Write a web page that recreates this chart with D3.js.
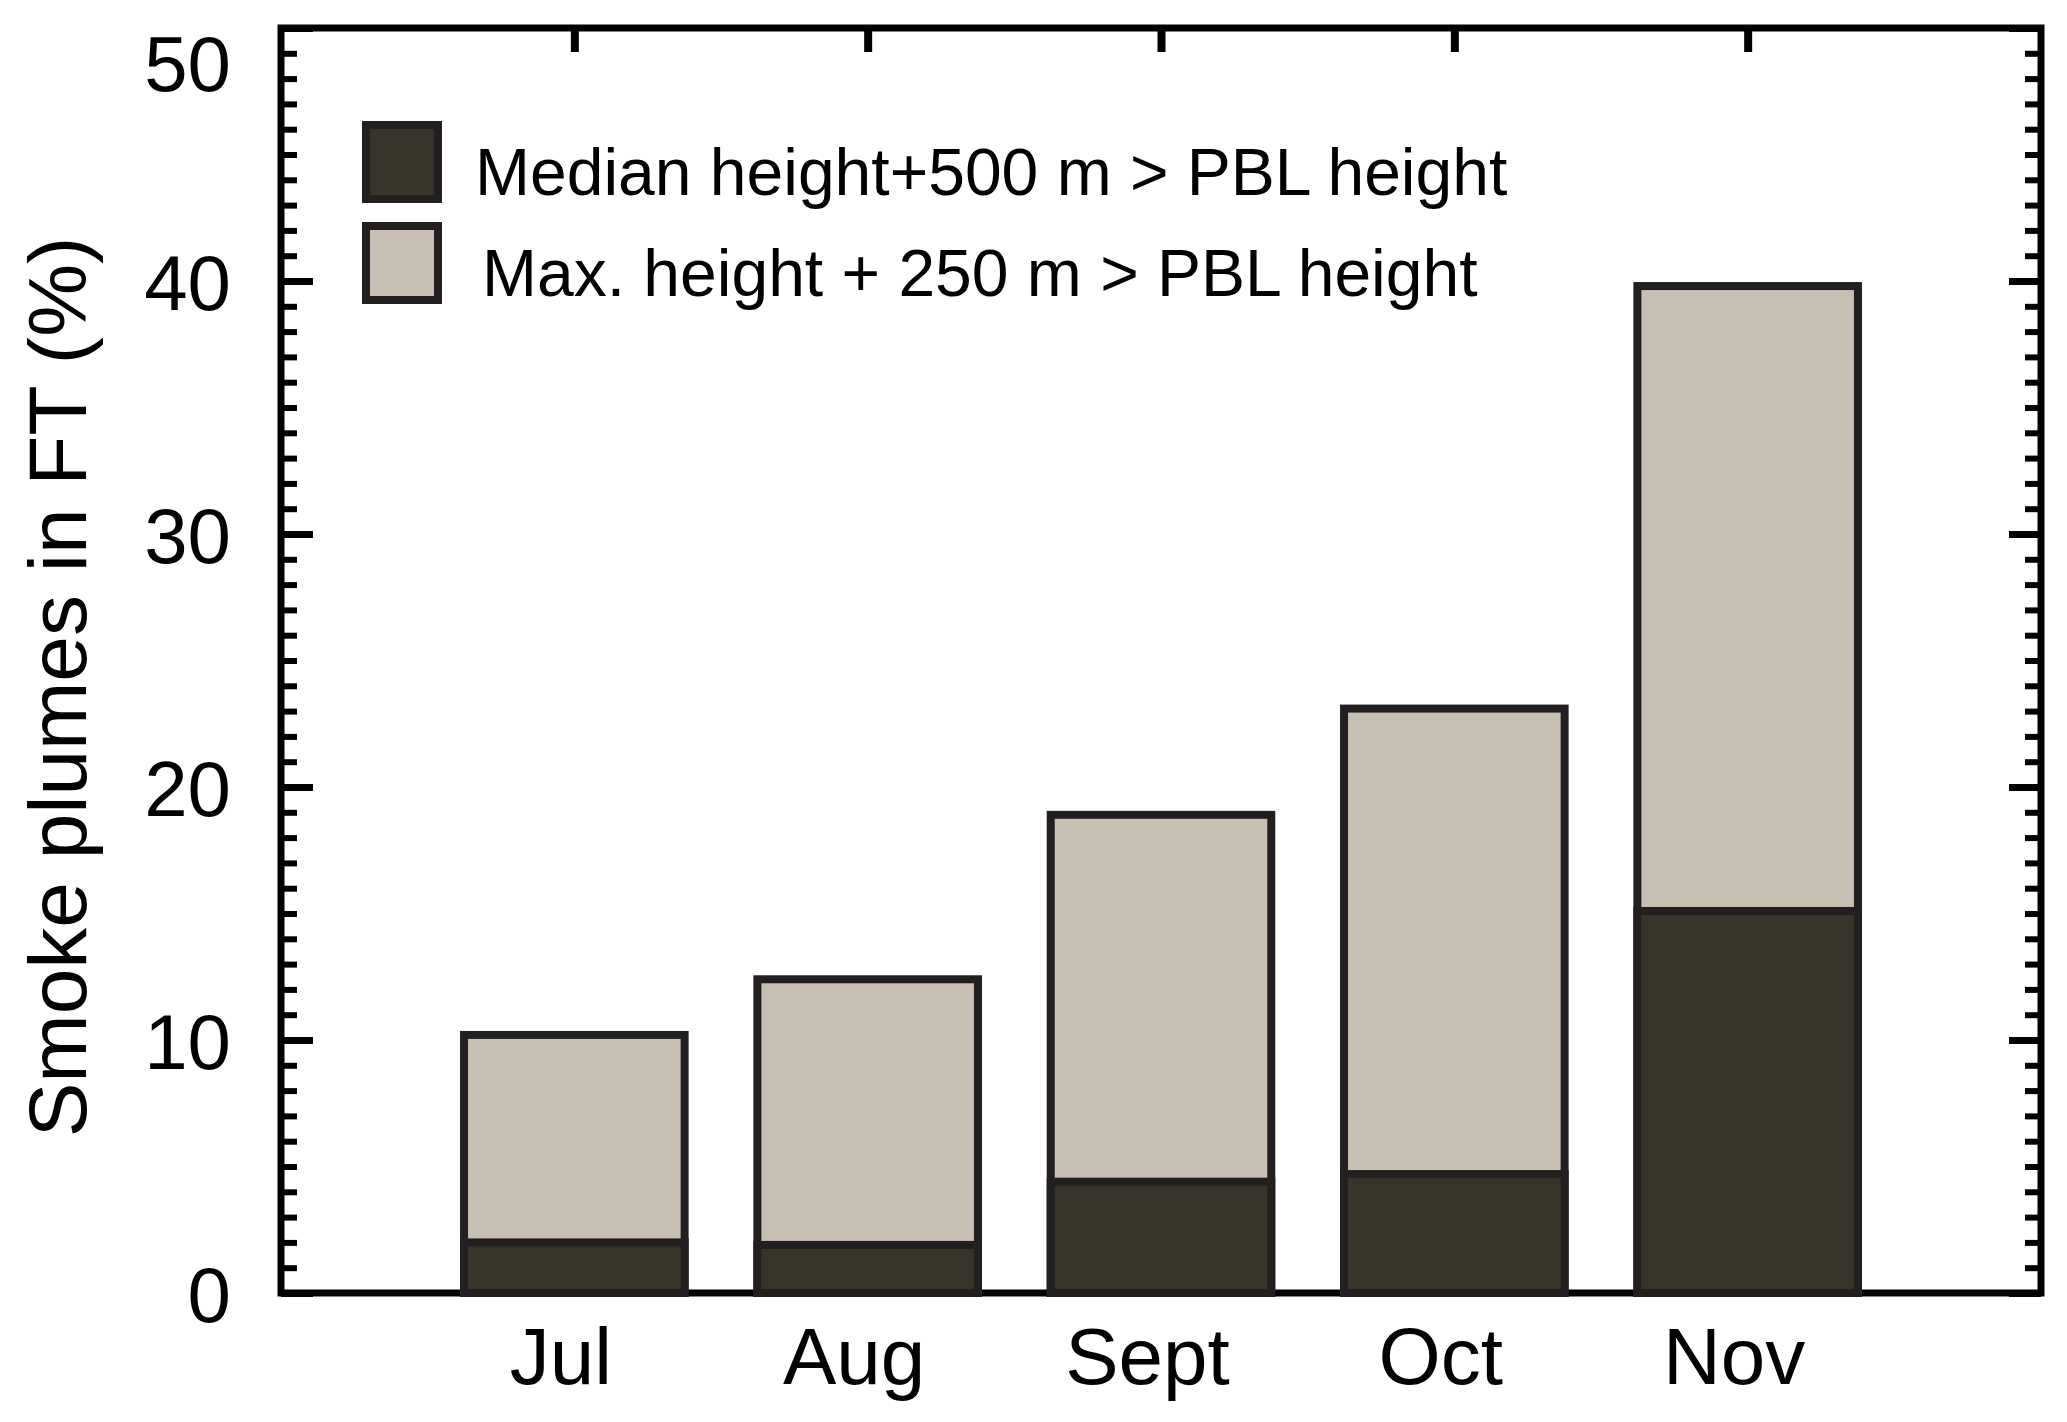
<!DOCTYPE html>
<html>
<head>
<meta charset="utf-8">
<script src="https://cdn.jsdelivr.net/npm/d3@7"></script>
<style>
  html, body { margin: 0; padding: 0; background: #fff; }
  svg { display: block; }
  text { font-family: "Liberation Sans", Arial, Helvetica, sans-serif; fill: #000; }
</style>
</head>
<body>
<svg id="chart" width="2067" height="1422"></svg>
<script>
// ---- data ----
const months = ["Jul", "Aug", "Sept", "Oct", "Nov"];
const medianPlus500 = [2.0, 1.9, 4.4, 4.7, 15.1];
const maxPlus250 = [10.2, 12.4, 18.9, 23.1, 39.8];
const seriesNames = ["Median height+500 m > PBL height", "Max. height + 250 m > PBL height"];
const yMajorTicks = [0, 10, 20, 30, 40, 50];
const yLabel = "Smoke plumes in FT (%)";

(function () {
// ---- layout ----
const mLeft = 281, mRight = 2041, mTop = 28, mBottom = 1293;
const frameW = 7;
const darkFill = "#38342a", lightFill = "#c6bfb2", outline = "#231f20";

const svg = d3.select("#chart");

const x = d3.scaleLinear().domain([0, months.length + 1]).range([mLeft, mRight]);
const y = d3.scaleLinear().domain([0, 50]).range([mBottom, mTop]);
const barW = (x(1) - x(0)) * 0.752;

// frame
svg.append("rect")
  .attr("x", mLeft).attr("y", mTop)
  .attr("width", mRight - mLeft).attr("height", mBottom - mTop)
  .attr("fill", "none").attr("stroke", "#000").attr("stroke-width", frameW);

// minor ticks left & right
const minorVals = d3.range(0, 51, 1).filter(v => v % 10 !== 0);
svg.append("g").attr("transform", `translate(${mLeft},0)`)
  .call(d3.axisLeft(y).tickValues(minorVals).tickSize(-16).tickFormat(""))
  .call(g => g.select(".domain").remove())
  .call(g => g.selectAll("line").attr("stroke", "#000").attr("stroke-width", 6));
svg.append("g").attr("transform", `translate(${mRight},0)`)
  .call(d3.axisRight(y).tickValues(minorVals).tickSize(-16).tickFormat(""))
  .call(g => g.select(".domain").remove())
  .call(g => g.selectAll("line").attr("stroke", "#000").attr("stroke-width", 6));

// major ticks left with labels
const yAxisG = svg.append("g").attr("transform", `translate(${mLeft},0)`)
  .call(d3.axisLeft(y).tickValues(yMajorTicks).tickSize(-32).tickPadding(50).tickFormat(d3.format("d")))
  .call(g => g.select(".domain").remove())
  .call(g => g.selectAll("line").attr("stroke", "#000").attr("stroke-width", 7));
yAxisG.selectAll("text")
  .attr("font-size", 78)
  .attr("font-family", "Liberation Sans, Arial, sans-serif")
  .attr("fill", "#000")
  .attr("dy", d => d === 50 ? "0.8em" : "0.36em");
// major ticks right
svg.append("g").attr("transform", `translate(${mRight},0)`)
  .call(d3.axisRight(y).tickValues(yMajorTicks).tickSize(-32).tickFormat(""))
  .call(g => g.select(".domain").remove())
  .call(g => g.selectAll("line").attr("stroke", "#000").attr("stroke-width", 7));

// top ticks at categories
svg.append("g").attr("transform", `translate(0,${mTop})`)
  .call(d3.axisTop(x).tickValues(d3.range(1, months.length + 1)).tickSize(-24).tickFormat(""))
  .call(g => g.select(".domain").remove())
  .call(g => g.selectAll("line").attr("stroke", "#000").attr("stroke-width", 8));

// bars: light (max) full height, dark (median) on top
const rows = months.map((m, i) => ({ m, i: i + 1, med: medianPlus500[i], max: maxPlus250[i] }));
svg.append("g").selectAll("rect.light").data(rows).join("rect")
  .attr("class", "light")
  .attr("x", d => x(d.i) - barW / 2).attr("width", barW)
  .attr("y", d => y(d.max)).attr("height", d => y(0) - y(d.max))
  .attr("fill", lightFill).attr("stroke", outline).attr("stroke-width", 8);
svg.append("g").selectAll("rect.dark").data(rows).join("rect")
  .attr("class", "dark")
  .attr("x", d => x(d.i) - barW / 2).attr("width", barW)
  .attr("y", d => y(d.med)).attr("height", d => y(0) - y(d.med))
  .attr("fill", darkFill).attr("stroke", outline).attr("stroke-width", 8);

// bottom category labels
const xAxisG = svg.append("g").attr("transform", `translate(0,${mBottom})`)
  .call(d3.axisBottom(x).tickValues(d3.range(1, months.length + 1)).tickSize(0).tickPadding(34)
    .tickFormat(d => months[d - 1]))
  .call(g => g.select(".domain").remove());
xAxisG.selectAll("text")
  .attr("font-size", 80)
  .attr("font-family", "Liberation Sans, Arial, sans-serif")
  .attr("fill", "#000")
  .attr("dx", -14);

// y label
svg.append("text")
  .attr("transform", `translate(86,687) rotate(-90)`)
  .attr("text-anchor", "middle")
  .attr("font-size", 82)
  .text(yLabel);

// legend
const legendFills = [darkFill, lightFill];
const legendY = [125, 226];
const lg = svg.append("g");
seriesNames.forEach((name, k) => {
  lg.append("rect")
    .attr("x", 366).attr("y", legendY[k])
    .attr("width", 72).attr("height", 74)
    .attr("fill", legendFills[k]).attr("stroke", outline).attr("stroke-width", 8);
  lg.append("text")
    .attr("x", k === 0 ? 475 : 482).attr("y", legendY[k] + 70)
    .attr("font-size", 66)
    .text(name);
});
})();
</script>
</body>
</html>
